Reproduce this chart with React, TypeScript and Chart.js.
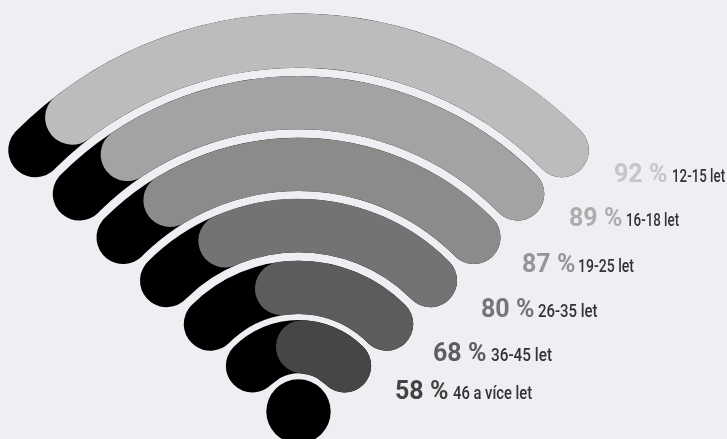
import React, { useEffect, useRef } from "react";
import { Chart, registerables } from "chart.js";

Chart.register(...registerables);

const ageGroups = ["12-15 let", "16-18 let", "19-25 let", "26-35 let", "36-45 let", "46 a více let"];
const percents = [92, 89, 87, 80, 68, 58];
// share of each black track covered by its grey bar
const coveredShare = [92.3, 88.5, 86.5, 79.5, 67.5, 64.5];
const ringColors = ["#bcbcbc", "#a3a3a3", "#8b8b89", "#737373", "#5c5c5c", "#474644"];
const labelColors = ["#c6c6c6", "#adadad", "#959595", "#757575", "#5e5e5e", "#444342"];
const ringOuter = [398, 335.5, 273.8, 212.5, 150.8, 91.5];
const ringInner = [343.8, 282.2, 220.5, 159.2, 97.5, 38.2];

const DOT_R = 32.2;
const CAP_CENTER_ANGLE = 45.2;
const BG = "#f0edf3";
const SIZE = 797;
const CX = 298.5;
const CY = 411.5;
const R = SIZE / 2;

const labelPos = [
  { x: 614, base: 181, ax: 672, sx: 0.74 },
  { x: 569, base: 225, ax: 625.5, sx: 0.74 },
  { x: 522, base: 271, ax: 578, sx: 0.78 },
  { x: 481, base: 316, ax: 538, sx: 0.83 },
  { x: 433, base: 360, ax: 491, sx: 0.85 },
  { x: 395, base: 398, ax: 453, sx: 0.82 },
];

function halfSweep(i: number) {
  const mid = (ringOuter[i] + ringInner[i]) / 2;
  const cap = (ringOuter[i] - ringInner[i]) / 2;
  return CAP_CENTER_ANGLE + ((cap / mid) * 180) / Math.PI;
}

function spacer(weight: number) {
  return { data: [1], backgroundColor: ["transparent"], weight, borderWidth: 0 };
}

function buildDatasets(layer: "track" | "bar") {
  const out: any[] = [];
  let prev = R;
  percents.forEach((_, i) => {
    out.push(spacer(prev - ringOuter[i]));
    const half = halfSweep(i);
    out.push({
      data: layer === "track" ? [100] : [100 - coveredShare[i], coveredShare[i]],
      backgroundColor: layer === "track" ? ["#000000"] : ["transparent", ringColors[i]],
      rotation: -half,
      circumference: half * 2,
      borderRadius: 60,
      borderWidth: 0,
      weight: ringOuter[i] - ringInner[i],
    });
    prev = ringInner[i];
  });
  out.push(spacer(prev - DOT_R));
  out.push({
    data: [1],
    backgroundColor: [layer === "track" ? "#000000" : "transparent"],
    borderWidth: 0,
    weight: DOT_R,
  });
  return out;
}

function makeChart(canvas: HTMLCanvasElement, layer: "track" | "bar") {
  return new Chart(canvas, {
    type: "doughnut",
    data: { labels: layer === "bar" ? ["rest", "value"] : ["track"], datasets: buildDatasets(layer) },
    options: {
      responsive: false,
      animation: false,
      cutout: 0,
      layout: { padding: 0 },
      plugins: { legend: { display: false }, tooltip: { enabled: false } },
    },
  });
}

const layerStyle: React.CSSProperties = {
  position: "absolute",
  left: CX - R,
  top: CY - R,
  width: SIZE,
  height: SIZE,
};

export default function App() {
  const trackRef = useRef<HTMLCanvasElement>(null);
  const barRef = useRef<HTMLCanvasElement>(null);

  useEffect(() => {
    const a = makeChart(trackRef.current!, "track");
    const b = makeChart(barRef.current!, "bar");
    return () => {
      a.destroy();
      b.destroy();
    };
  }, []);

  const pctFs = 25;
  const ageFs = 18;
  return (
    <div style={{ position: "fixed", left: 0, top: 0, width: 727, height: 439, overflow: "hidden", background: BG }}>
      <canvas ref={trackRef} width={SIZE} height={SIZE} style={layerStyle} />
      <canvas ref={barRef} width={SIZE} height={SIZE} style={layerStyle} />
      {percents.map((p, i) => (
        <React.Fragment key={p}>
          <span
            style={{
              position: "absolute",
              left: labelPos[i].x,
              top: labelPos[i].base + 1 - pctFs * 0.34,
              height: 0,
              whiteSpace: "nowrap",
              font: `700 ${pctFs}px Roboto`,
              lineHeight: "0px",
              color: labelColors[i],
            }}
          >
            {p} %
          </span>
          <span
            style={{
              position: "absolute",
              left: labelPos[i].ax,
              top: labelPos[i].base + 1 - ageFs * 0.34,
              height: 0,
              whiteSpace: "nowrap",
              font: `500 ${ageFs}px Roboto`,
              lineHeight: "0px",
              color: "#333333",
              transform: `scaleX(${labelPos[i].sx})`,
              transformOrigin: "left",
            }}
          >
            {ageGroups[i]}
          </span>
        </React.Fragment>
      ))}
    </div>
  );
}
